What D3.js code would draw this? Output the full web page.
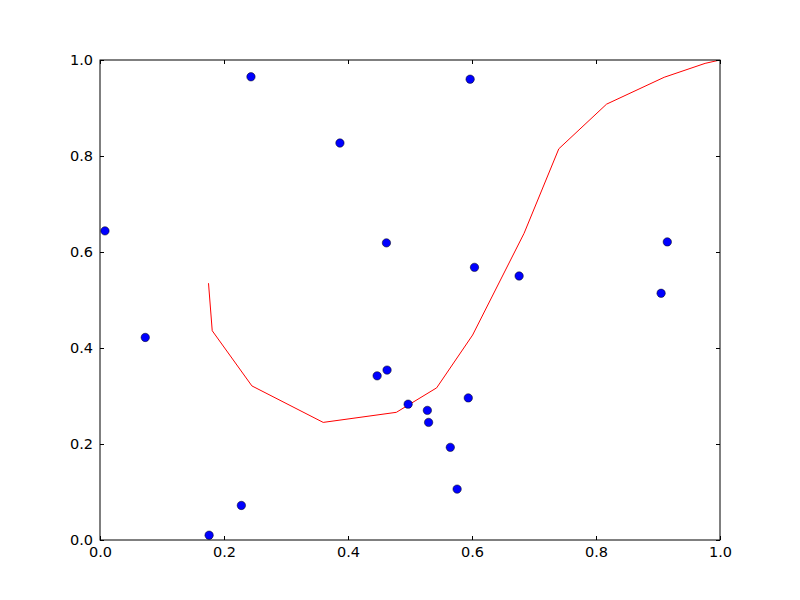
<!DOCTYPE html>
<html><head><meta charset="utf-8">
<script src="https://cdn.jsdelivr.net/npm/d3@7"></script>
<style>body{margin:0;background:#fff}svg{display:block}</style>
</head><body><svg id="c" width="800" height="600"></svg>
<script>
const pointsX = [0.008,0.2435,0.387,0.597,0.073,0.176,0.228,0.462,0.604,0.676,0.905,0.915,0.447,0.463,0.497,0.528,0.530,0.594,0.565,0.576];
const pointsY = [0.644,0.965,0.827,0.960,0.422,0.010,0.072,0.619,0.568,0.550,0.514,0.621,0.342,0.354,0.283,0.270,0.245,0.296,0.193,0.106];
const lineX = [0.175,0.181,0.245,0.360,0.478,0.543,0.601,0.684,0.740,0.817,0.910,0.976,1.0];
const lineY = [0.535,0.436,0.321,0.245,0.266,0.317,0.427,0.639,0.815,0.908,0.964,0.993,1.0];
const tickValues = [0,0.2,0.4,0.6,0.8,1.0];

const svg = d3.select("#c");
const L=100,R=720,T=60,B=540;
const x = d3.scaleLinear().domain([0,1]).range([L,R]);
const y = d3.scaleLinear().domain([0,1]).range([B,T]);
const fmt = d3.format(".1f");

svg.append("clipPath").attr("id","clp").append("rect")
  .attr("x",L).attr("y",T).attr("width",R-L).attr("height",B-T);

const plot = svg.append("g").attr("clip-path","url(#clp)");
plot.append("path")
  .datum(lineX.map((v,i)=>[v,lineY[i]]))
  .attr("d", d3.line().x(d=>x(d[0])).y(d=>y(d[1])))
  .attr("fill","none").attr("stroke","#ff0000").attr("stroke-width",1);

svg.append("g").selectAll("circle")
  .data(pointsX.map((v,i)=>[v,pointsY[i]]))
  .join("circle")
  .attr("cx",d=>x(d[0])).attr("cy",d=>y(d[1])).attr("r",4.2)
  .attr("fill","#0000ff").attr("stroke","#000").attr("stroke-width",0.5);

function styleAxis(g){
  g.attr("font-size","14.5px").attr("font-family","DejaVu Sans");
  g.select(".domain").remove();
  g.selectAll(".tick line").attr("stroke","#000").attr("stroke-width",1);
  g.selectAll(".tick text").attr("fill","#000");
}
svg.append("g").attr("transform",`translate(0,${B})`)
  .call(d3.axisBottom(x).tickValues(tickValues).tickFormat(fmt).tickSizeInner(-4).tickSizeOuter(0).tickPadding(7))
  .call(styleAxis);
svg.append("g").attr("transform",`translate(0,${T})`)
  .call(d3.axisTop(x).tickValues(tickValues).tickFormat("").tickSizeInner(-4).tickSizeOuter(0))
  .call(styleAxis);
svg.append("g").attr("transform",`translate(${L},0)`)
  .call(d3.axisLeft(y).tickValues(tickValues).tickFormat(fmt).tickSizeInner(-4).tickSizeOuter(0).tickPadding(7))
  .call(styleAxis);
svg.append("g").attr("transform",`translate(${R},0)`)
  .call(d3.axisRight(y).tickValues(tickValues).tickFormat("").tickSizeInner(-4).tickSizeOuter(0))
  .call(styleAxis);

svg.append("rect").attr("x",L).attr("y",T).attr("width",R-L).attr("height",B-T)
  .attr("fill","none").attr("stroke","#000").attr("stroke-width",1);
</script></body></html>
